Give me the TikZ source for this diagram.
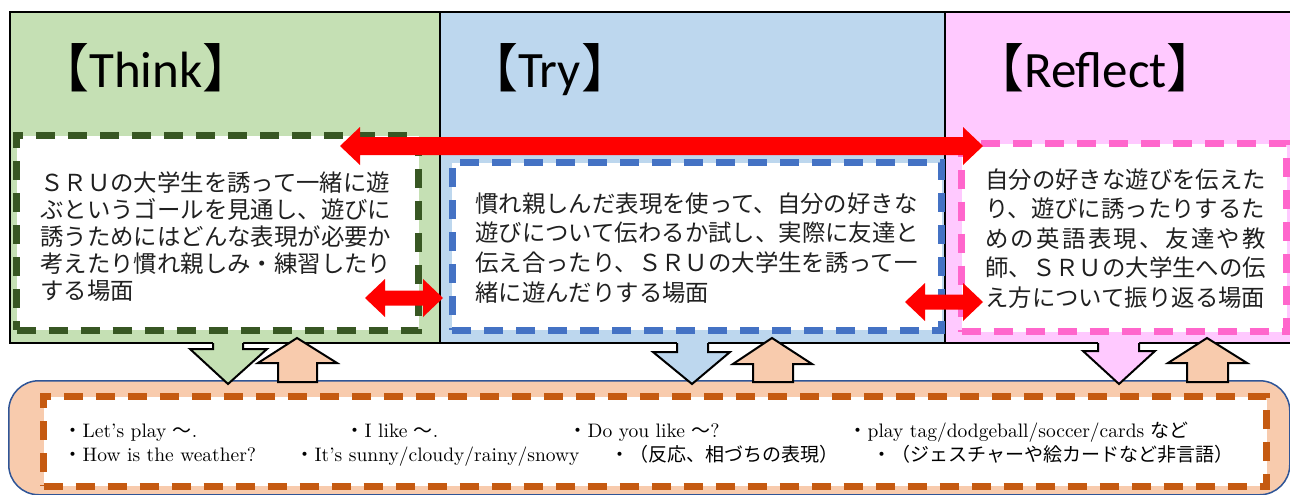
\documentclass[tikz,border=0pt]{standalone}
\usepackage{fontspec}
\newfontfamily\jp{Noto Sans CJK JP}
\newfontfamily\calib{Carlito}
\newfontfamily\lmten{lmroman10-regular.otf}
\usetikzlibrary{calc}
\definecolor{thinkbg}{HTML}{C5E0B4}
\definecolor{trybg}{HTML}{BDD7EE}
\definecolor{reflbg}{HTML}{FFC9FF}
\definecolor{thinkdash}{HTML}{385723}
\definecolor{trydash}{HTML}{4472C4}
\definecolor{refldash}{HTML}{FF66CC}
\definecolor{orfill}{HTML}{F8CBAD}
\definecolor{ordash}{HTML}{C55A11}
\definecolor{boxblue}{HTML}{2F5597}
\definecolor{bodyink}{HTML}{202020}
\newcommand\jsp{\kern2.34pt}
\newcommand\jb{\jp\fontsize{19}{22}\selectfont}
\newcommand\tb[1]{{\jp\fontsize{52}{56}\selectfont #1}}
\newcommand\redDbl[4]{%
  \fill[redfill] (#1,#3) -- (#1+20,#3-19) -- (#1+20,#3-#4) -- (#2-20,#3-#4) -- (#2-20,#3-19) -- (#2,#3)
    -- (#2-20,#3+19) -- (#2-20,#3+#4) -- (#1+20,#3+#4) -- (#1+20,#3+19) -- cycle;}
\tikzset{
  panel/.style={draw=black, line width=2pt, inner sep=0pt, outer sep=0pt, anchor=north west},
  dbox/.style={fill=white, draw=#1, line width=7pt, dash pattern=on 19pt off 13pt,
     preaction={draw=white, line width=7pt}, inner sep=0pt, outer sep=0pt, anchor=north west},
  bodytxt/.style={font=\jp\fontsize{23.4}{#1}\selectfont, text width=440pt, align=left,
     inner sep=0pt, anchor=base west, text=bodyink},
  titletxt/.style={font=\calib\fontsize{51}{56}\selectfont, inner sep=0pt, anchor=base west},
  btxt/.style={font=\lmten\fontsize{19.5}{22}\selectfont, inner sep=0pt, anchor=base west},
  redfill/.style={fill=red},
  blk/.style={draw=black, line width=2pt},
  uparr/.style={fill=orfill, draw=black, line width=2pt},
}
\begin{document}
\begin{tikzpicture}[x=1pt,y=-1pt]
\useasboundingbox (0,0) rectangle (1290,495);
% panels
\node[panel, fill=thinkbg, minimum width=430, minimum height=331] (thinkpanel) at (10,12) {};
\node[panel, fill=trybg, minimum width=505, minimum height=331] (trypanel) at (440,12) {};
\node[panel, fill=reflbg, minimum width=400, minimum height=331] (reflpanel) at (945,12) {};
% titles
\node[titletxt] (thinktitle) at (37,87) {\tb{【}Think\tb{】}};
\node[titletxt] (trytitle) at (466,87) {\tb{【}Try\tb{】}};
\node[titletxt] (refltitle) at (972,87) {\tb{【}Reflect\tb{】}};
% dashed boxes
\node[dbox=thinkdash, minimum width=402, minimum height=194.5] (thinkbox) at (16.5,135.5) {};
\node[dbox=trydash, minimum width=489.5, minimum height=167.5] (trybox) at (452,162.5) {};
\node[dbox=refldash, minimum width=325, minimum height=188] (reflbox) at (961.5,143.5) {};
% texts
\node[bodytxt=27] (thinktext) at (40,191) {ＳＲＵの大学生を誘って一緒に遊\\ぶというゴールを見通し、遊びに\\誘うためにはどんな表現が必要か\\考えたり慣れ親しみ・練習したり\\する場面};
\node[bodytxt=29.7] (trytext) at (475,212) {慣れ親しんだ表現を使って、自分の好きな\\遊びについて伝わるか試し、実際に友達と\\伝え合ったり、ＳＲＵの大学生を誘って一\\緒に遊んだりする場面};
\node[bodytxt=29.5] (refltext) at (985,188) {自分の好きな遊びを伝えた\\り、遊びに誘ったりするた\\め\jsp の\jsp 英\jsp 語\jsp 表\jsp 現\jsp 、\jsp 友\jsp 達\jsp や\jsp 教\\師、ＳＲＵの大学生への伝\\え方について振り返る場面};
% red arrows
\coordinate (ra1) at (340,146); \coordinate (ra2) at (983,146);
\redDbl{340}{983}{146}{9}
\redDbl{365}{443}{298}{7.5}
\redDbl{905}{983}{302}{7.5}
% bottom box
\node[draw=boxblue, fill=orfill, line width=1.5pt, rounded corners=30pt, minimum width=1281,
  minimum height=114, inner sep=0pt, anchor=north west] (bottombox) at (8,380) {};
\node[dbox=ordash, minimum width=1223, minimum height=89.5] (exprbox) at (43.5,396.5) {};
% bottom texts
\node[btxt] (e1) at (63.5,437) {{\jb ・}Let’s play {\jb ～}.};
\node[btxt] (e2) at (345.5,437) {{\jb ・}I like {\jb ～}.};
\node[btxt] (e3) at (568.5,437) {{\jb ・}Do you like {\jb ～}?};
\node[btxt] (e4) at (848.5,437) {{\jb ・}play tag/dodgeball/soccer/cards {\jb など}};
\node[btxt] (e5) at (63.5,461) {{\jb ・}How is the weather?};
\node[btxt] (e6) at (295.5,461) {{\jb ・}It’s sunny/cloudy/rainy/snowy};
\node[btxt] (e7) at (610.5,461) {{\jb ・（反応、相づちの表現）}};
\node[btxt] (e8) at (872.5,461) {{\jb ・（ジェスチャーや絵カードなど非言語）}};
% down arrows
\fill[thinkbg] (213,340) -- (213,349) -- (190,349) -- (228,384) -- (267,349) -- (243,349) -- (243,340) -- cycle;
\draw[blk] (213,343) -- (213,349) -- (190,349) -- (228,384) -- (267,349) -- (243,349) -- (243,343);
\fill[trybg] (677,340) -- (677,352) -- (653,352) -- (692,384) -- (730,352) -- (708,352) -- (708,340) -- cycle;
\draw[blk] (677,343) -- (677,352) -- (653,352) -- (692,384) -- (730,352) -- (708,352) -- (708,343);
\fill[reflbg] (1098,340) -- (1098,351) -- (1083,351) -- (1119,384) -- (1155,351) -- (1139,351) -- (1139,340) -- cycle;
\draw[blk] (1098,343) -- (1098,351) -- (1083,351) -- (1119,384) -- (1155,351) -- (1139,351) -- (1139,343);
% up arrows
\filldraw[uparr] (297,338) -- (337,363) -- (317,363) -- (317,382) -- (278,382) -- (278,363) -- (258,363) -- cycle;
\filldraw[uparr] (772,338) -- (812,364) -- (793,364) -- (793,382) -- (753,382) -- (753,364) -- (733,364) -- cycle;
\filldraw[uparr] (1207,338) -- (1247,363) -- (1228,363) -- (1228,382) -- (1187,382) -- (1187,363) -- (1168,363) -- cycle;
\end{tikzpicture}
\end{document}
